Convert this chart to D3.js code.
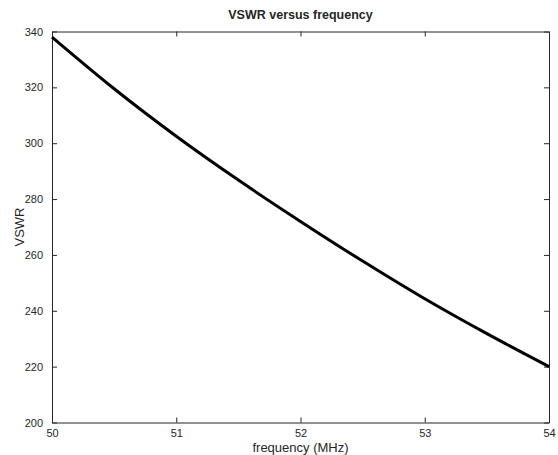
<!DOCTYPE html>
<html>
<head>
<meta charset="utf-8">
<script src="https://cdn.jsdelivr.net/npm/d3@7"></script>
<style>
  body { margin: 0; background: #fff; }
  text { font-family: "Liberation Sans", Arial, sans-serif; fill: #262626; }
</style>
</head>
<body>
<div id="chart"></div>
<script>
// values
const freq = [50, 50.5, 51, 51.5, 52, 52.5, 53, 53.5, 54];
const vswr = [338, 319.5, 302.5, 286.8, 272, 257.8, 244.3, 231.8, 220];
const xTicks = [50, 51, 52, 53, 54];
const yTicks = [200, 220, 240, 260, 280, 300, 320, 340];

const width = 558, height = 455;
const margin = { top: 31.5, right: 9, bottom: 32.5, left: 52 };

const svg = d3.select("#chart").append("svg")
    .attr("width", width)
    .attr("height", height);

const x = d3.scaleLinear().domain([50, 54]).range([margin.left, width - margin.right]);
const y = d3.scaleLinear().domain([200, 340]).range([height - margin.bottom, margin.top]);

const axisColor = "#262626";

// bottom axis with labels
const gx = svg.append("g")
    .attr("transform", "translate(0," + (height - margin.bottom) + ")")
    .call(d3.axisBottom(x).tickValues(xTicks).tickFormat(d3.format("d")).tickSizeInner(-5).tickSizeOuter(0).tickPadding(7));
// top axis, ticks only
const gxt = svg.append("g")
    .attr("transform", "translate(0," + margin.top + ")")
    .call(d3.axisTop(x).tickValues(xTicks).tickFormat("").tickSizeInner(-5).tickSizeOuter(0));
// left axis with labels
const gy = svg.append("g")
    .attr("transform", "translate(" + margin.left + ",0)")
    .call(d3.axisLeft(y).tickValues(yTicks).tickSizeInner(-5).tickSizeOuter(0).tickPadding(9));
// right axis, ticks only
const gyr = svg.append("g")
    .attr("transform", "translate(" + (width - margin.right) + ",0)")
    .call(d3.axisRight(y).tickValues(yTicks).tickFormat("").tickSizeInner(-5).tickSizeOuter(0));

[gx, gxt, gy, gyr].forEach(g => {
    g.selectAll("path.domain").attr("stroke", axisColor);
    g.selectAll(".tick line").attr("stroke", axisColor);
    g.selectAll(".tick text")
        .style("font-family", "'Liberation Sans', Arial, sans-serif")
        .style("font-size", "11px")
        .attr("fill", axisColor);
});

// curve
const line = d3.line()
    .x((d, i) => x(freq[i]))
    .y(d => y(d))
    .curve(d3.curveMonotoneX);

svg.append("path")
    .datum(vswr)
    .attr("fill", "none")
    .attr("stroke", "#000")
    .attr("stroke-width", 3)
    .attr("d", line);

// title
svg.append("text")
    .attr("x", (margin.left + width - margin.right) / 2)
    .attr("y", 19)
    .attr("text-anchor", "middle")
    .style("font-size", "12.5px")
    .style("font-weight", "bold")
    .text("VSWR versus frequency");

// axis labels
svg.append("text")
    .attr("x", (margin.left + width - margin.right) / 2)
    .attr("y", 452)
    .attr("text-anchor", "middle")
    .style("font-size", "13px")
    .text("frequency (MHz)");

svg.append("text")
    .attr("transform", "translate(24," + (margin.top + height - margin.bottom) / 2 + ") rotate(-90)")
    .attr("text-anchor", "middle")
    .style("font-size", "13px")
    .text("VSWR");
</script>
</body>
</html>
